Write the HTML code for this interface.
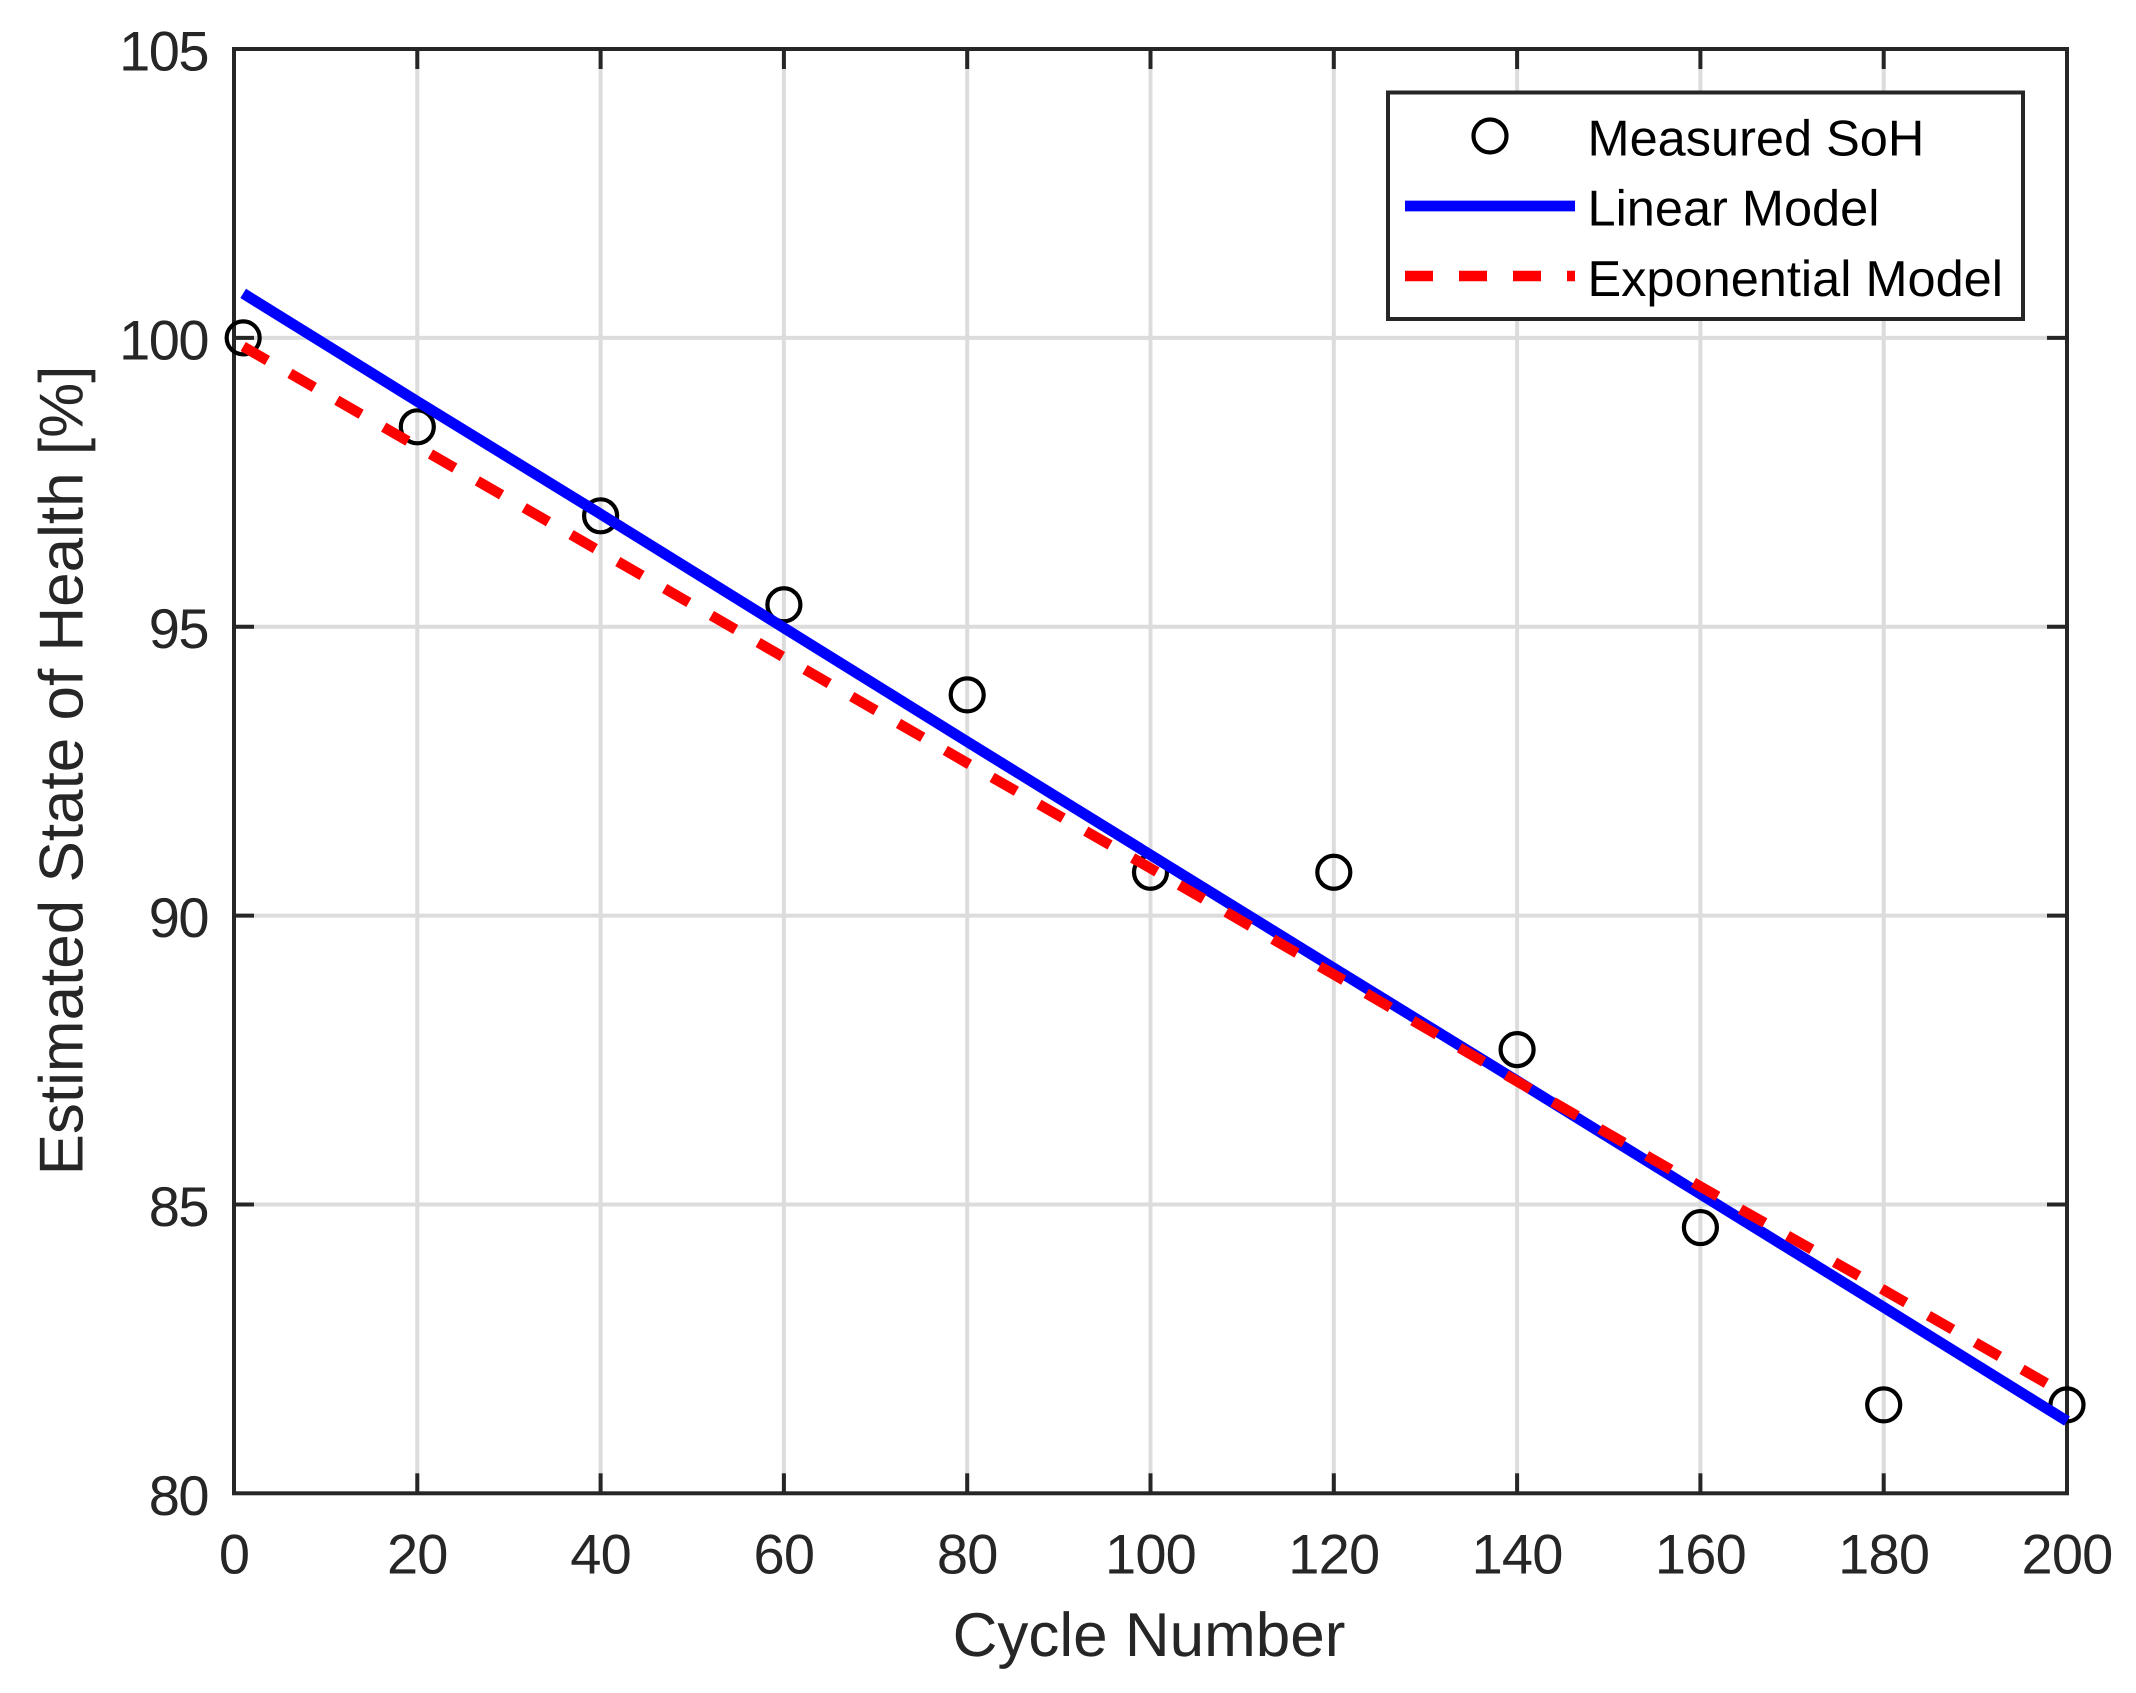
<!DOCTYPE html>
<html lang="en">
<head>
<meta charset="utf-8">
<title>Estimated State of Health vs Cycle Number</title>
<style>
html,body{margin:0;padding:0;background:#fff;width:2136px;height:1693px;overflow:hidden}
svg{display:block}
text{font-family:"Liberation Sans",Arial,sans-serif;text-rendering:geometricPrecision}
</style>
</head>
<body>
<svg id="chart" xmlns="http://www.w3.org/2000/svg" width="2136" height="1693" viewBox="0 0 2136 1693">
  <rect x="0" y="0" width="2136" height="1693" fill="#fff"/>
  <g id="grid"></g>
  <rect x="234" y="49" width="1833" height="1444.3" fill="none" stroke="#262626" stroke-width="4"/>
  <g id="ticks"></g>
  <g id="tick-labels"></g>
  <g id="markers"></g>
  <polyline id="linear-line" fill="none" stroke="#0000ff" stroke-width="10.8"/>
  <polyline id="exp-line" fill="none" stroke="#ff0000" stroke-width="10.4" stroke-dasharray="28 26"/>
  <text x="1149" y="1656" font-size="62" fill="#262626" text-anchor="middle">Cycle Number</text>
  <text transform="translate(82.7 770.5) rotate(-90)" font-size="62" fill="#262626" text-anchor="middle">Estimated State of Health [%]</text>
  <g>
    <rect x="1388" y="92.5" width="635" height="226.5" fill="#fff" stroke="#262626" stroke-width="4"/>
    <circle cx="1490" cy="136" r="16.5" fill="none" stroke="#000" stroke-width="4.2"/>
    <text x="1587.5" y="155.7" font-size="50.5" fill="#000">Measured SoH</text>
    <line x1="1405" y1="206" x2="1575" y2="206" stroke="#0000ff" stroke-width="10.8"/>
    <text x="1587.5" y="225.7" font-size="50.5" fill="#000">Linear Model</text>
    <line x1="1405" y1="276" x2="1575" y2="276" stroke="#ff0000" stroke-width="10.4" stroke-dasharray="28 26"/>
    <text x="1587.5" y="296" font-size="50.5" fill="#000">Exponential Model</text>
  </g>
</svg>
<script>
const xTicks = [0, 20, 40, 60, 80, 100, 120, 140, 160, 180, 200];
const yTicks = [80, 85, 90, 95, 100, 105];
const cycles = [1, 20, 40, 60, 80, 100, 120, 140, 160, 180, 200];
const measuredSoH = [100, 98.46, 96.92, 95.38, 93.82, 90.75, 90.75, 87.68, 84.6, 81.53, 81.53];
const linearModel = [100.77, 98.9, 96.95, 94.98, 93.01, 91.05, 89.09, 87.14, 85.18, 83.22, 81.25];
const exponentialModel = [99.85, 98.12, 96.3, 94.47, 92.64, 90.82, 88.98, 87.13, 85.31, 83.52, 81.7];

const NS = 'http://www.w3.org/2000/svg';
const plot = { left: 234, right: 2067, top: 49, bottom: 1493.3, xMin: 0, xMax: 200, yMin: 80, yMax: 105 };
function xScale(v) { return plot.left + (v - plot.xMin) / (plot.xMax - plot.xMin) * (plot.right - plot.left); }
function yScale(v) { return plot.bottom - (v - plot.yMin) / (plot.yMax - plot.yMin) * (plot.bottom - plot.top); }
function make(tag, attrs) {
  const el = document.createElementNS(NS, tag);
  for (const k in attrs) el.setAttribute(k, attrs[k]);
  return el;
}
const gridG = document.getElementById('grid');
const ticksG = document.getElementById('ticks');
const labelsG = document.getElementById('tick-labels');
const markersG = document.getElementById('markers');
const GRID = { stroke: '#dcdcdc', 'stroke-width': 4 };
const TICK = { stroke: '#262626', 'stroke-width': 4 };
const TICK_LEN = 20;

xTicks.forEach(function (v) {
  const x = xScale(v);
  if (v !== plot.xMin && v !== plot.xMax) {
    const g = make('line', Object.assign({ x1: x, x2: x, y1: plot.top, y2: plot.bottom }, GRID));
    
    
    gridG.appendChild(g);
    const t1 = make('line', Object.assign({ x1: x, x2: x, y1: plot.bottom, y2: plot.bottom - TICK_LEN }, TICK));
    
    
    ticksG.appendChild(t1);
    const t2 = make('line', Object.assign({ x1: x, x2: x, y1: plot.top, y2: plot.top + TICK_LEN }, TICK));
    
    
    ticksG.appendChild(t2);
  }
  const l = make('text', { x: x, y: 1573.5, 'font-size': 56, 'letter-spacing': -0.8, fill: '#262626', 'text-anchor': 'middle' });
  
  
  l.textContent = v;
  labelsG.appendChild(l);
});

yTicks.forEach(function (v) {
  const y = yScale(v);
  if (v !== plot.yMin && v !== plot.yMax) {
    const g = make('line', Object.assign({ x1: plot.left, x2: plot.right, y1: y, y2: y }, GRID));
    
    
    gridG.appendChild(g);
    const t1 = make('line', Object.assign({ x1: plot.left, x2: plot.left + TICK_LEN, y1: y, y2: y }, TICK));
    
    
    ticksG.appendChild(t1);
    const t2 = make('line', Object.assign({ x1: plot.right, x2: plot.right - TICK_LEN, y1: y, y2: y }, TICK));
    
    
    ticksG.appendChild(t2);
  }
  const l = make('text', { x: 208, y: y + 21.5, 'font-size': 56, 'letter-spacing': -1.5, fill: '#262626', 'text-anchor': 'end' });
  
  
  l.textContent = v;
  labelsG.appendChild(l);
});

cycles.forEach(function (c, i) {
  const m = make('circle', { cx: xScale(c), cy: yScale(measuredSoH[i]), r: 16.5, fill: 'none', stroke: '#000', 'stroke-width': 4.2 });
  
  
  markersG.appendChild(m);
});

function toPoints(values) {
  return cycles.map(function (c, i) { return xScale(c) + ',' + yScale(values[i]); }).join(' ');
}
document.getElementById('linear-line').setAttribute('points', toPoints(linearModel));
document.getElementById('exp-line').setAttribute('points', toPoints(exponentialModel));
</script>
</body>
</html>
